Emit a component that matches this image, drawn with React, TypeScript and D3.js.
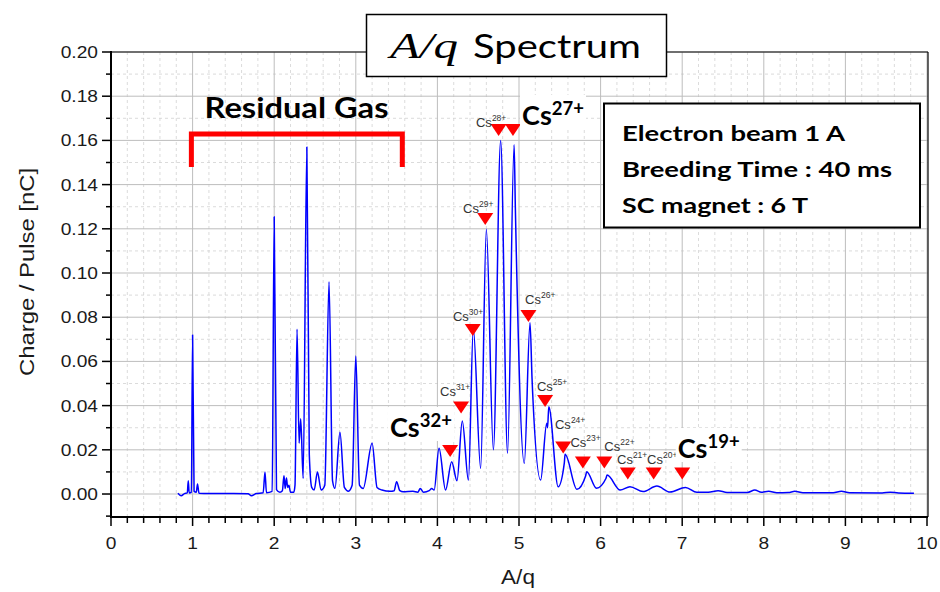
import React from "react";
import * as d3 from "d3";

// ---- Spectrum (A/q, charge per pulse in nC) ----
const SPEC_AQ = [
  0.82, 0.86, 0.9, 0.935, 0.947, 0.958, 0.985, 1.0, 1.018, 1.045, 1.06, 1.078, 1.2, 1.5, 1.68, 1.72, 1.78,
  1.865, 1.887, 1.905, 1.975, 2.0, 2.028, 2.07, 2.1, 2.12, 2.135, 2.15, 2.165, 2.18, 2.2, 2.24, 2.255, 2.28,
  2.305, 2.325, 2.355, 2.4, 2.43, 2.46, 2.49, 2.53, 2.575, 2.62, 2.672, 2.715, 2.745, 2.806, 2.86, 2.91,
  2.955, 3.0, 3.045, 3.09, 3.2, 3.26, 3.32, 3.42, 3.47, 3.5, 3.54, 3.58, 3.7, 3.76, 3.79, 3.83, 3.9, 3.93,
  3.96, 4.02, 4.1, 4.175, 4.24, 4.305, 4.38, 4.44, 4.53, 4.6, 4.686, 4.775, 4.86, 4.94, 4.955, 5.065, 5.135,
  5.16, 5.265, 5.34, 5.35, 5.365, 5.48, 5.555, 5.565, 5.71, 5.815, 5.83, 5.95, 6.065, 6.08, 6.24, 6.36,
  6.52, 6.69, 6.85, 7.04, 7.18, 7.32, 7.44, 7.55, 7.8, 7.89, 7.97, 8.06, 8.16, 8.3, 8.38, 8.48, 8.85, 8.95,
  9.05, 9.45, 9.55, 9.65, 9.84,
];
const SPEC_Q = [
  0.0003, -0.0008, 0.0002, 0.0005, 0.006, 0.0005, 0.0008, 0.072, 0.0012, 0.0008, 0.0045, 0.0004, 0.0002,
  0.0002, 0.0001, -0.0008, 0.0002, 0.0006, 0.01, 0.0006, 0.0012, 0.1255, 0.002, 0.0008, 0.0015, 0.0083,
  0.0025, 0.0072, 0.003, 0.004, 0.0008, 0.0008, 0.004, 0.0746, 0.023, 0.034, 0.007, 0.157, 0.018, 0.003,
  0.0018, 0.01, 0.0018, 0.004, 0.096, 0.006, 0.0026, 0.028, 0.003, 0.0013, 0.004, 0.0624, 0.004, 0.0025,
  0.023, 0.003, 0.0018, 0.0012, 0.0015, 0.0056, 0.0015, 0.001, 0.0012, 0.0008, 0.0025, 0.0008, 0.0015,
  0.0025, 0.0018, 0.0207, 0.0018, 0.0146, 0.006, 0.033, 0.0063, 0.075, 0.0116, 0.1198, 0.02, 0.16, 0.0184,
  0.158, 0.13, 0.0139, 0.0775, 0.052, 0.0063, 0.032, 0.03, 0.0395, 0.0033, 0.014, 0.018, 0.0021, 0.008,
  0.0101, 0.0026, 0.007, 0.0086, 0.0018, 0.0033, 0.0011, 0.0036, 0.0009, 0.003, 0.0008, 0.0008, 0.0015,
  0.0007, 0.0007, 0.0018, 0.0008, 0.0012, 0.0006, 0.0007, 0.0012, 0.0006, 0.0006, 0.0012, 0.0006, 0.0005,
  0.0008, 0.0005, 0.0004,
];

// ---- Cs charge-state markers ----
const CS_MASS = 133;
const CS_CHARGE = [32, 31, 30, 29, 28, 27, 26, 25, 24, 23, 22, 21, 20, 19];
const CS_MARK_Y = [0.0195, 0.0391, 0.0742, 0.1244, 0.1647, 0.1647, 0.0805, 0.0421, 0.021, 0.0143, 0.0143, 0.0093, 0.0093, 0.0093];

// small labels (text start A/q, baseline value)
const SMALL_Q = [31, 30, 29, 28, 26, 25, 24, 23, 22, 21, 20];
const SMALL_X = [4.032, 4.19, 4.314, 4.473, 5.074, 5.22, 5.441, 5.63, 6.045, 6.201, 6.569];
const SMALL_Y = [0.0443, 0.0783, 0.1271, 0.166, 0.086, 0.0466, 0.0294, 0.0213, 0.0195, 0.0136, 0.0136];

// big labels
const BIG_Q = [32, 27, 19];
const BIG_X = [3.419, 5.037, 6.945];
const BIG_Y = [0.0258, 0.167, 0.0163];

// ticks
const X_TICKS = [0, 1, 2, 3, 4, 5, 6, 7, 8, 9, 10];
const Y_TICKS = [0, 0.02, 0.04, 0.06, 0.08, 0.1, 0.12, 0.14, 0.16, 0.18, 0.2];

// residual gas bracket (A/q from-to, value top/bottom)
const BRACKET_X = [0.985, 3.57];
const BRACKET_Y = [0.1629, 0.148];

const INFO_LINES = ["Electron beam 1 A", "Breeding Time : 40 ms", "SC magnet : 6 T"];
const INFO_LEN = [223, 270, 186];

const W = 940;
const H = 592;
const TXT = "#1a1a1a";
const SANS = "'Liberation Sans', Arial, sans-serif";
const CAL = "Lato, 'Open Sans', sans-serif";
const SX = 1.13; // horizontal stretch of the sans labels in the source figure

export default function App() {
  const x = d3.scaleLinear().domain([0, 10]).range([111, 927]);
  const y = d3.scaleLinear().domain([-0.0104, 0.2]).range([517, 52]);
  const left = x(0), right = x(10) + 1, top = y(0.2), bottom = y(-0.0104);

  const pts: [number, number][] = SPEC_AQ.map((a, i) => [a, SPEC_Q[i]]);
  const line = d3
    .line<[number, number]>()
    .x((d) => x(d[0]))
    .y((d) => y(d[1]))
    .curve(d3.curveMonotoneX);

  const minorX = d3.range(0, 10.001, 0.2).filter((v) => Math.abs(v - Math.round(v)) > 1e-6);
  const minorY = d3.range(0.01, 0.2, 0.02);

  const tri = (cx: number, cy: number) => {
    const p = d3.path();
    p.moveTo(cx - 8, cy - 6);
    p.lineTo(cx + 8, cy - 6);
    p.lineTo(cx, cy + 6);
    p.closePath();
    return p.toString();
  };

  return (
    <svg
      width={W}
      height={H}
      style={{ position: "absolute", left: 0, top: 0, background: "#fff" }}
    >
      <rect x={0} y={0} width={W} height={H} fill="#fff" />
      {/* grid */}
      {minorX.map((v) => (
        <line key={"mx" + v} x1={x(v)} x2={x(v)} y1={top} y2={bottom} stroke="#d2d2d2" strokeWidth={0.8} strokeDasharray="3,3" />
      ))}
      {minorY.map((v) => (
        <line key={"my" + v} x1={left} x2={right} y1={y(v)} y2={y(v)} stroke="#d2d2d2" strokeWidth={0.8} strokeDasharray="3,3" />
      ))}
      {X_TICKS.map((v) => (
        <line key={"gx" + v} x1={x(v)} x2={x(v)} y1={top} y2={bottom} stroke="#bdbdbd" strokeWidth={1} />
      ))}
      {Y_TICKS.map((v) => (
        <line key={"gy" + v} x1={left} x2={right} y1={y(v)} y2={y(v)} stroke="#bdbdbd" strokeWidth={1} />
      ))}

      {/* frame */}
      <line x1={left} x2={right} y1={top} y2={top} stroke="#000" strokeWidth={1.2} />
      <line x1={right} x2={right} y1={top} y2={bottom} stroke="#000" strokeWidth={1.2} />
      <line x1={left} x2={left} y1={top - 1} y2={bottom + 1} stroke="#000" strokeWidth={2} />
      <line x1={left - 1} x2={right} y1={bottom} y2={bottom} stroke="#000" strokeWidth={2} />

      {/* y ticks */}
      {Y_TICKS.map((v) => (
        <line key={"ty" + v} x1={left - 9} x2={left} y1={y(v)} y2={y(v)} stroke="#000" strokeWidth={1.5} />
      ))}
      {minorY.map((v) => (
        <line key={"tmy" + v} x1={left - 5} x2={left} y1={y(v)} y2={y(v)} stroke="#000" strokeWidth={1.5} />
      ))}
      <line x1={left - 5} x2={left} y1={y(-0.01)} y2={y(-0.01)} stroke="#000" strokeWidth={1.5} />
      {/* x ticks */}
      {X_TICKS.map((v) => (
        <line key={"tx" + v} x1={x(v)} x2={x(v)} y1={bottom} y2={bottom + 9} stroke="#000" strokeWidth={1.5} />
      ))}
      {minorX.map((v) => (
        <line key={"tmx" + v} x1={x(v)} x2={x(v)} y1={bottom} y2={bottom + 6} stroke="#000" strokeWidth={1.5} />
      ))}

      {/* tick labels */}
      {Y_TICKS.map((v) => (
        <g key={"ly" + v} transform={`translate(98,${y(v) + 6}) scale(${SX},1)`}>
          <text textAnchor="end" fontFamily={SANS} fontSize={17} fill={TXT}>
            {v.toFixed(2)}
          </text>
        </g>
      ))}
      {X_TICKS.map((v) => (
        <g key={"lx" + v} transform={`translate(${x(v)},549) scale(${SX},1)`}>
          <text textAnchor="middle" fontFamily={SANS} fontSize={17} fill={TXT}>
            {v}
          </text>
        </g>
      ))}
      <g transform={`translate(518,584) scale(${SX},1)`}>
        <text textAnchor="middle" fontFamily={SANS} fontSize={20} fill={TXT}>
          A/q
        </text>
      </g>
      <text
        transform={`translate(34,272) rotate(-90)`}
        textAnchor="middle"
        fontFamily={SANS}
        fontSize={20}
        fill={TXT}
        textLength={208}
        lengthAdjust="spacingAndGlyphs"
      >
        Charge / Pulse [nC]
      </text>

      {/* residual gas bracket */}
      <path
        d={`M${x(BRACKET_X[0])},${y(BRACKET_Y[1])} L${x(BRACKET_X[0])},${y(BRACKET_Y[0])} L${x(BRACKET_X[1])},${y(BRACKET_Y[0])} L${x(BRACKET_X[1])},${y(BRACKET_Y[1])}`}
        fill="none"
        stroke="#ff0000"
        strokeWidth={5}
      />
      <text x={296.5} y={118} textAnchor="middle" fontFamily={CAL} fontWeight={700} fontSize={29} fill="#000" textLength={184} lengthAdjust="spacingAndGlyphs">
        Residual Gas
      </text>

      {/* spectrum */}
      <path d={line(pts) || ""} fill="none" stroke="#0000ff" strokeWidth={1.5} strokeLinejoin="round" />

      {/* markers */}
      {CS_CHARGE.map((q, i) => (
        <path key={"m" + q} d={tri(x(CS_MASS / q), y(CS_MARK_Y[i]))} fill="#ff0000" />
      ))}
      {SMALL_Q.map((q, i) => (
        <text key={"s" + q} x={x(SMALL_X[i])} y={y(SMALL_Y[i])} fontFamily={SANS} fontSize={13} fill="#333">
          Cs
          <tspan fontSize={8.5} dy={-6}>
            {q}+
          </tspan>
        </text>
      ))}
      {BIG_Q.map((q, i) => (
        <g key={"b" + q}>
          <rect x={x(BIG_X[i]) - 2} y={y(BIG_Y[i]) - 30} width={66} height={34} fill="#fff" />
          <text x={x(BIG_X[i])} y={y(BIG_Y[i])} fontFamily={CAL} fontWeight={700} fontSize={27} fill="#000">
            Cs
            <tspan fontSize={18.5} dy={-10}>
              {q}+
            </tspan>
          </text>
        </g>
      ))}

      {/* title box */}
      <rect x={366.5} y={14.5} width={300} height={62} fill="#fff" stroke="#000" strokeWidth={1.5} />
      <text x={390} y={58} fontFamily="'Liberation Serif', 'DejaVu Serif', serif" fontStyle="italic" fontSize={36} fill="#000" textLength={68} lengthAdjust="spacingAndGlyphs">
        A/q
      </text>
      <text x={473} y={58} fontFamily={CAL} fontSize={32} fill="#000" textLength={168} lengthAdjust="spacingAndGlyphs">
        Spectrum
      </text>

      {/* info box */}
      <rect x={604} y={103.5} width={316} height={124} fill="#fff" stroke="#000" strokeWidth={2} />
      {INFO_LINES.map((t, i) => (
        <text key={t} x={622} y={141 + i * 36} fontFamily={CAL} fontWeight={700} fontSize={20} fill="#000" textLength={INFO_LEN[i]} lengthAdjust="spacingAndGlyphs">
          {t}
        </text>
      ))}
    </svg>
  );
}
